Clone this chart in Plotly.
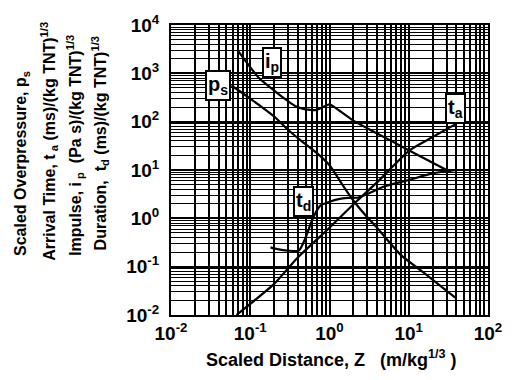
import numpy as np
import plotly.graph_objects as go

# ---- data (Z in m/kg^(1/3)) ----
ps_z = [0.058, 0.1, 0.2, 0.3, 0.44, 0.7, 1.0, 1.5, 2.1, 3.0, 4.0, 7.8, 15, 38.6]
ps_v = [560, 300, 128, 68, 40, 22, 12.5, 4.6, 2.1, 1.05, 0.63, 0.18, 0.078, 0.023]

ip_z = [0.071, 0.128, 0.2, 0.3, 0.38, 0.5, 0.685, 0.85, 1.0, 1.4, 2.1, 4.0, 10.4, 34]
ip_v = [2850, 810, 440, 265, 205, 180, 175, 205, 228, 160, 100, 57, 24.8, 9.0]

ta_z = [0.067, 0.2, 0.39, 1.0, 2.1, 4.0, 10.4, 20, 38.6]
ta_v = [0.01, 0.044, 0.15, 0.64, 2.1, 5.6, 26, 48, 88]

td_z = [0.18, 0.22, 0.3, 0.41, 0.5, 0.6, 0.7, 0.77, 1.0, 1.3, 1.7, 2.3, 3.4, 5, 10, 20, 40]
td_v = [0.25, 0.23, 0.215, 0.215, 0.4, 0.9, 1.5, 1.85, 2.2, 2.5, 2.65, 2.7, 3.5, 4.6, 6.2, 8.5, 10]

x_ticks = [0.01, 0.1, 1, 10, 100]
x_ticktext = ["10<sup>-2</sup>", "10<sup>-1</sup>", "10<sup>0</sup>", "10<sup>1</sup>", "10<sup>2</sup>"]
y_ticks = [0.01, 0.1, 1, 10, 100, 1000, 10000]
y_ticktext = ["10<sup>-2</sup>", "10<sup>-1</sup>", "10<sup>0</sup>", "10<sup>1</sup>",
              "10<sup>2</sup>", "10<sup>3</sup>", "10<sup>4</sup>"]

curve_labels = ["p<sub>s</sub>", "i<sub>p</sub>", "t<sub>a</sub>", "t<sub>d</sub>"]
label_z = [0.0394, 0.19, 38.6, 0.463]
label_v = [559, 1700, 183, 2.2]

y_title_lines = [
    "Scaled Overpressure, p<sub>s</sub>",
    "Arrival Time, t<sub> a</sub> (ms)/(kg TNT)<sup>1/3</sup>",
    "Impulse, i<sub> p</sub>  (Pa s)/(kg TNT)<sup>1/3</sup>",
    "Duration,  t<sub>d</sub> (ms)/(kg TNT)<sup>1/3</sup>",
]
x_title = "Scaled Distance, Z   (m/kg<sup>1/3</sup> )"

# ---- layout geometry ----
W, H = 514, 380
L, R, T, B = 171, 13, 18, 65
PW, PH = W - L - R, H - T - B


def px_x(px):
    return (px - L) / PW


def px_y(py):
    return (H - B - py) / PH


FONT = "Liberation Sans"

fig = go.Figure()
for zs, vs in [(ps_z, ps_v), (ip_z, ip_v), (ta_z, ta_v), (td_z, td_v)]:
    fig.add_trace(go.Scatter(x=zs, y=vs, mode="lines",
                             line=dict(color="black", width=2.2, shape="spline", smoothing=0.6),
                             showlegend=False, hoverinfo="skip"))

for txt, zx, vy in zip(curve_labels, label_z, label_v):
    fig.add_annotation(x=np.log10(zx), y=np.log10(vy), xref="x", yref="y", text=txt,
                       showarrow=False, bgcolor="white", bordercolor="black", borderwidth=2,
                       borderpad=1, font=dict(family=FONT, size=20, color="black", weight="bold"))

y_line_x = [16, 44, 71, 97]
y_line_bottom = [257, 262, 256, 251]
for txt, lx, lb in zip(y_title_lines, y_line_x, y_line_bottom):
    fig.add_annotation(x=px_x(lx), y=px_y(lb), xref="paper", yref="paper", text=txt,
                       textangle=-90, showarrow=False, xanchor="center", yanchor="bottom",
                       font=dict(family=FONT, size=16, color="black", weight="bold"))

fig.add_annotation(x=px_x(338), y=px_y(360), xref="paper", yref="paper", text=x_title,
                   showarrow=False, xanchor="center", yanchor="middle",
                   font=dict(family=FONT, size=18, color="black", weight="bold"))

minor_x = [k * 10.0 ** d for d in range(-2, 2) for k in range(2, 10)]
minor_y = [k * 10.0 ** d for d in range(-2, 4) for k in range(2, 10)]

fig.update_xaxes(type="log", range=[-2, 2], tickmode="array", tickvals=x_ticks, ticktext=x_ticktext,
                 showgrid=True, gridcolor="black", gridwidth=2,
                 minor=dict(tickmode="array", tickvals=minor_x, showgrid=True, gridcolor="black", gridwidth=2, ticks=""),
                 showline=True, linecolor="black", linewidth=2, mirror=True, ticks="",
                 ticklabeloverflow="allow",
                 tickfont=dict(family=FONT, size=19, color="black", weight="bold"), zeroline=False)
fig.update_yaxes(type="log", range=[-2, 4], tickmode="array", tickvals=y_ticks, ticktext=y_ticktext,
                 showgrid=True, gridcolor="black", gridwidth=2,
                 minor=dict(tickmode="array", tickvals=minor_y, showgrid=True, gridcolor="black", gridwidth=1, ticks=""),
                 showline=True, linecolor="black", linewidth=2, mirror=True, ticks="",
                 ticklabelstandoff=6, ticklabeloverflow="allow",
                 tickfont=dict(family=FONT, size=19, color="black", weight="bold"), zeroline=False)

fig.update_layout(width=W, height=H, margin=dict(l=L, r=R, t=T, b=B),
                  paper_bgcolor="white", plot_bgcolor="white", showlegend=False)

fig.write_html("out.html")
